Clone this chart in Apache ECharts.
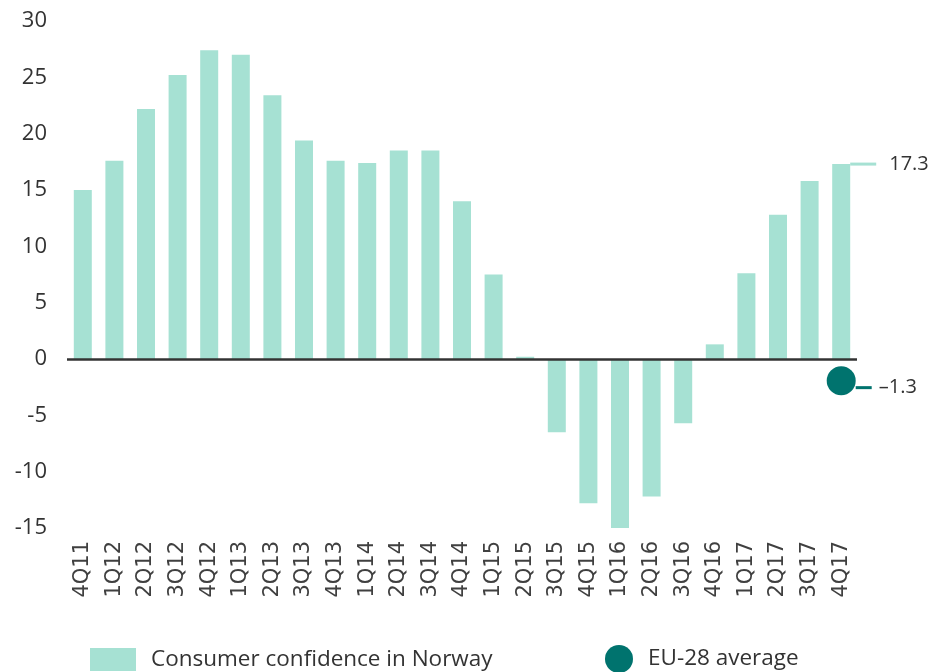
<!DOCTYPE html>
<html>
<head>
<meta charset="utf-8">
<script src="https://cdn.jsdelivr.net/npm/echarts@6/dist/echarts.min.js"></script>
<style>
  html, body { margin: 0; padding: 0; background: #fff; }
  #chart { width: 930px; height: 672px; }
</style>
</head>
<body>
<div id="chart"></div>
<script>
// quarters on the x axis
var quarters = ['4Q11','1Q12','2Q12','3Q12','4Q12','1Q13','2Q13','3Q13','4Q13','1Q14','2Q14','3Q14','4Q14',
                '1Q15','2Q15','3Q15','4Q15','1Q16','2Q16','3Q16','4Q16','1Q17','2Q17','3Q17','4Q17'];
// consumer confidence in Norway
var norway = [15.0, 17.6, 22.2, 25.2, 27.4, 27.0, 23.4, 19.4, 17.6, 17.4, 18.5, 18.5, 14.0,
              7.5, 0.2, -6.5, -12.8, -15.0, -12.2, -5.7, 1.3, 7.6, 12.8, 15.8, 17.3];
// EU-28 average, latest quarter only
var euQuarter = '4Q17';
var euValue = -1.3;

var barColor = '#a6e1d3';
var dotColor = '#00736e';

var myChart = echarts.init(document.getElementById('chart'));

var barData = norway.map(function (v, i) {
    if (i == norway.length - 1) {
        return {
            value: v,
            label: {
                show: true,
                position: [18, 0],
                verticalAlign: 'middle',
                formatter: '{l|}{t|' + v + '}',
                rich: {
                    l: { width: 26, height: 3, backgroundColor: barColor, verticalAlign: 'middle' },
                    t: { fontFamily: 'Open Sans', fontSize: 20, color: '#333', padding: [0, 0, 0, 13], verticalAlign: 'middle' }
                }
            }
        };
    }
    return v;
});

myChart.setOption({
    animation: false,
    grid: { left: 67, right: 73, top: 21, bottom: 144 },
    legend: [
        {
            left: 90, top: 648, padding: 0,
            icon: 'rect', itemWidth: 46, itemHeight: 23,
            data: ['Consumer confidence in Norway'],
            textStyle: { fontFamily: 'Open Sans', fontSize: 22.5, color: '#333', padding: [0, 0, 0, 10] }
        },
        {
            left: 605, top: 645, padding: 0,
            icon: 'circle', itemWidth: 28, itemHeight: 28,
            data: ['EU-28 average'],
            textStyle: { fontFamily: 'Open Sans', fontSize: 22.5, color: '#333', padding: [0, 0, 0, 10] }
        }
    ],
    xAxis: {
        type: 'category',
        data: quarters,
        axisLine: { show: false },
        axisTick: { show: false },
        axisLabel: {
            rotate: 90, margin: 13, interval: 0,
            fontFamily: 'DejaVu Sans', fontSize: 21, color: '#404040'
        }
    },
    yAxis: {
        type: 'value',
        min: -15, max: 30, interval: 5,
        splitLine: { show: false },
        axisLine: { show: false },
        axisTick: { show: false },
        axisLabel: { margin: 20, fontFamily: 'Open Sans', fontSize: 22, color: '#333' }
    },
    series: [
        {
            name: 'Consumer confidence in Norway',
            type: 'bar',
            barWidth: 18,
            itemStyle: { color: barColor },
            data: barData,
            markLine: {
                silent: true,
                symbol: 'none',
                label: { show: false },
                lineStyle: { color: '#333', width: 2.5, type: 'solid' },
                data: [{ yAxis: 0 }]
            }
        },
        {
            name: 'EU-28 average',
            type: 'scatter',
            symbol: 'circle',
            symbolSize: 29,
            symbolOffset: [0, 7],
            itemStyle: { color: dotColor, opacity: 1 },
            data: [[euQuarter, euValue]],
            label: {
                show: true,
                position: 'right',
                distance: 0,
                offset: [0, 7],
                formatter: function (p) { return '{l|}{t|' + String(p.value[1]).replace('-', '\u2013') + '}'; },
                rich: {
                    l: { width: 16, height: 3, backgroundColor: dotColor, verticalAlign: 'middle' },
                    t: { fontFamily: 'Open Sans', fontSize: 20, color: '#333', padding: [0, 0, 0, 7], verticalAlign: 'middle' }
                }
            },
            z: 3
        }
    ]
});
</script>
</body>
</html>
